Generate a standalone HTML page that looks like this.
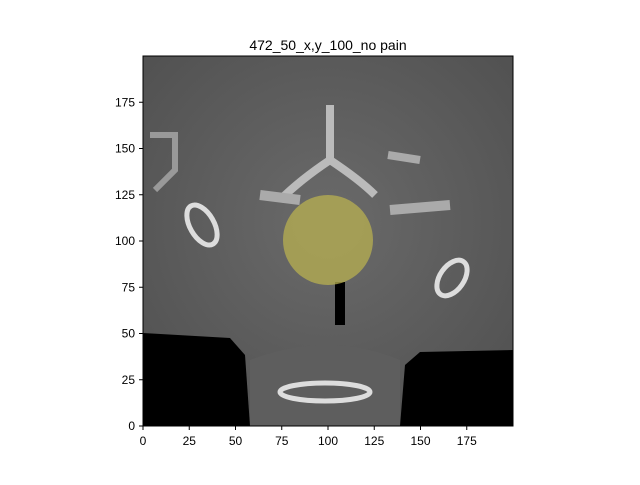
<!DOCTYPE html>
<html><head><meta charset="utf-8"><style>
body{margin:0;background:#fff;font-family:"Liberation Sans",sans-serif}
svg text{font-family:"Liberation Sans",sans-serif}
</style></head><body>
<svg width="640" height="480">
<defs>
<clipPath id="ax"><rect x="143" y="56" width="370" height="370"/></clipPath>
<radialGradient id="bg" cx="0.5" cy="0.45" r="0.7"><stop offset="0" stop-color="#6a6a6a"/><stop offset="1" stop-color="#505050"/></radialGradient>
</defs>
<text x="328" y="50" text-anchor="middle" font-size="14">472_50_x,y_100_no pain</text>
<g clip-path="url(#ax)">
<rect x="143" y="56" width="370" height="370" fill="url(#bg)"/>
<path d="M143,333 L230,338 L245,355 L250,426 L143,426 Z" fill="#000"/>
<path d="M513,350 L420,352 L405,365 L400,426 L513,426 Z" fill="#000"/>
<path d="M250,360 Q328,330 400,360 L400,426 L250,426 Z" fill="#5e5e5e"/>
<ellipse cx="325" cy="392" rx="45" ry="9" fill="none" stroke="#ddd" stroke-width="5"/>
<ellipse cx="202" cy="225" rx="12" ry="22" fill="none" stroke="#ddd" stroke-width="5" transform="rotate(-30 202 225)"/>
<ellipse cx="452" cy="278" rx="12" ry="20" fill="none" stroke="#ddd" stroke-width="5" transform="rotate(35 452 278)"/>
<path d="M330,105 L330,160 Q300,180 280,200 M330,160 Q360,180 375,195" fill="none" stroke="#bbb" stroke-width="8"/>
<path d="M260,195 L300,200 M390,210 L450,205" stroke="#aaa" stroke-width="10"/>
<path d="M150,135 L175,135 L175,170 L155,190" fill="none" stroke="#999" stroke-width="6"/>
<path d="M388,155 L420,160" stroke="#aaa" stroke-width="8"/>
<path d="M335,282 L345,282 L345,325 L335,325 Z" fill="#000"/>
<circle cx="328" cy="240" r="45" fill="#b8b050" fill-opacity="0.75"/>
</g>
<rect x="143" y="56" width="370" height="370" fill="none" stroke="#000" stroke-width="1"/>
<g id="xt"></g>
<g id="yt"></g>
</svg>
<script>
const xTicks=[0,25,50,75,100,125,150,175];
const yTicks=[0,25,50,75,100,125,150,175];
const x0=143,y0=426,s=370/200,ns="http://www.w3.org/2000/svg";
const xt=document.getElementById('xt'),yt=document.getElementById('yt');
xTicks.forEach(v=>{const x=x0+v*s;
const l=document.createElementNS(ns,'line');l.setAttribute('x1',x);l.setAttribute('x2',x);l.setAttribute('y1',426);l.setAttribute('y2',430);l.setAttribute('stroke','#000');


xt.appendChild(l);
const t=document.createElementNS(ns,'text');t.setAttribute('x',x);t.setAttribute('y',445);t.setAttribute('text-anchor','middle');t.setAttribute('font-size','12');t.textContent=v;


xt.appendChild(t);});
yTicks.forEach(v=>{const y=y0-v*s;
const l=document.createElementNS(ns,'line');l.setAttribute('x1',139);l.setAttribute('x2',143);l.setAttribute('y1',y);l.setAttribute('y2',y);l.setAttribute('stroke','#000');


yt.appendChild(l);
const t=document.createElementNS(ns,'text');t.setAttribute('x',135);t.setAttribute('y',y+4);t.setAttribute('text-anchor','end');t.setAttribute('font-size','12');t.textContent=v;


yt.appendChild(t);});
</script>
</body></html>
